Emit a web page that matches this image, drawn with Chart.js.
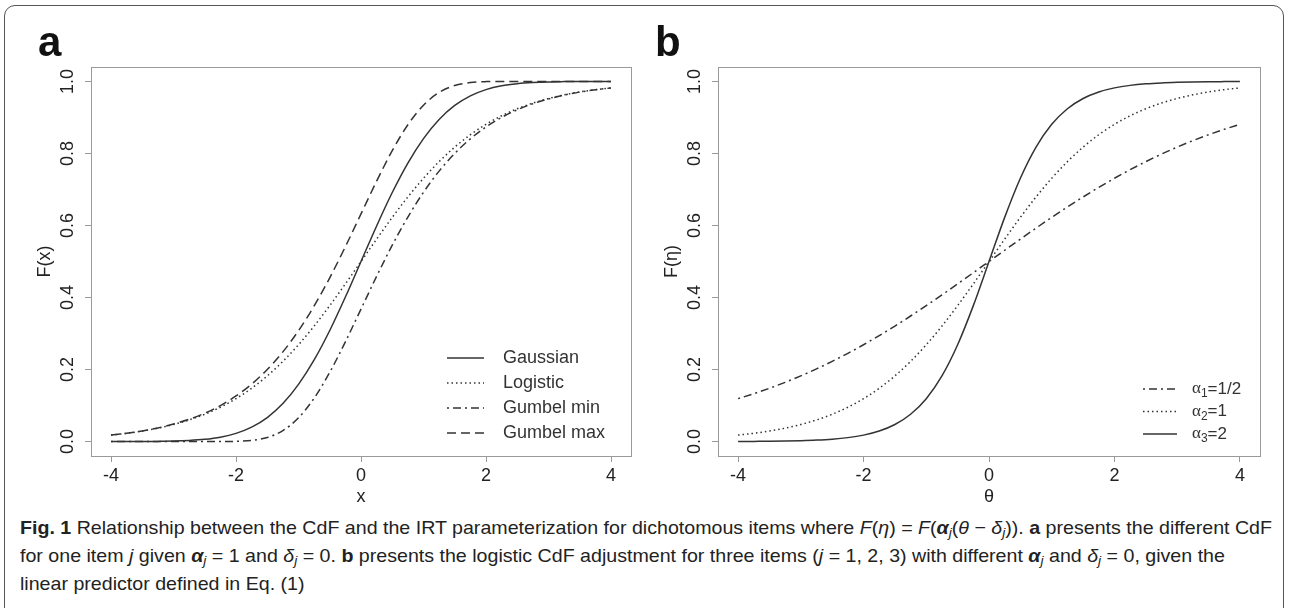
<!DOCTYPE html>
<html>
<head>
<meta charset="utf-8">
<script src="https://cdn.jsdelivr.net/npm/chart.js@4.4.1/dist/chart.umd.min.js"></script>
<style>
  html, body { margin: 0; padding: 0; background: #fff; }
  body { width: 1289px; height: 608px; position: relative; overflow: hidden; }
  #frame {
    position: absolute; left: 4px; top: 5px; width: 1280px; height: 660px;
    border: 1.5px solid #555; border-radius: 11px; box-sizing: border-box;
  }
  canvas { position: absolute; top: 0; }
  #chartA { left: 0; }
  #chartB { left: 645px; }
  #cap {
    position: absolute; left: 20px; top: 514px;
    font-family: "Liberation Sans", Arial, sans-serif;
    font-size: 19px; line-height: 28px; color: #222;
    white-space: nowrap; transform-origin: 0 0;
  }
  #cap sub { font-size: 70%; line-height: 0; vertical-align: -0.25em; }
</style>
</head>
<body>
<div id="frame"></div>
<canvas id="chartA" width="645" height="510"></canvas>
<canvas id="chartB" width="644" height="510"></canvas>
<div id="cap"><b>Fig. 1</b> Relationship between the CdF and the IRT parameterization for dichotomous items where <i>F</i>(<i>η</i>) = <i>F</i>(<b><i>α</i></b><sub><i>j</i></sub>(<i>θ</i> − <i>δ</i><sub><i>j</i></sub>)). <b>a</b> presents the different CdF<br>for one item <i>j</i> given <b><i>α</i></b><sub><i>j</i></sub> = 1 and <i>δ</i><sub><i>j</i></sub> = 0. <b>b</b> presents the logistic CdF adjustment for three items (<i>j</i> = 1, 2, 3) with different <b><i>α</i></b><sub><i>j</i></sub> and <i>δ</i><sub><i>j</i></sub> = 0, given the<br>linear predictor defined in Eq. (1)</div>
<script>
// valores
const xValues = [-4, -3.75, -3.5, -3.25, -3, -2.75, -2.5, -2.25, -2, -1.75, -1.5, -1.25, -1, -0.75, -0.5, -0.25,
                 0, 0.25, 0.5, 0.75, 1, 1.25, 1.5, 1.75, 2, 2.25, 2.5, 2.75, 3, 3.25, 3.5, 3.75, 4];
const gaussian = [0.0000, 0.0001, 0.0002, 0.0006, 0.0013, 0.0030, 0.0062, 0.0122, 0.0228, 0.0401, 0.0668, 0.1056, 0.1587, 0.2266, 0.3085, 0.4013,
                  0.5000, 0.5987, 0.6915, 0.7734, 0.8413, 0.8944, 0.9332, 0.9599, 0.9772, 0.9878, 0.9938, 0.9970, 0.9987, 0.9994, 0.9998, 0.9999, 1.0000];
const logistic = [0.0180, 0.0230, 0.0293, 0.0373, 0.0474, 0.0601, 0.0759, 0.0953, 0.1192, 0.1480, 0.1824, 0.2227, 0.2689, 0.3208, 0.3775, 0.4378,
                  0.5000, 0.5622, 0.6225, 0.6792, 0.7311, 0.7773, 0.8176, 0.8520, 0.8808, 0.9047, 0.9241, 0.9399, 0.9526, 0.9627, 0.9707, 0.9770, 0.9820];
const gumbelMin = [0.0000, 0.0000, 0.0000, 0.0000, 0.0000, 0.0000, 0.0000, 0.0001, 0.0006, 0.0032, 0.0113, 0.0305, 0.0660, 0.1204, 0.1923, 0.2769,
                   0.3679, 0.4589, 0.5452, 0.6235, 0.6922, 0.7509, 0.8000, 0.8405, 0.8734, 0.9000, 0.9212, 0.9381, 0.9514, 0.9620, 0.9703, 0.9768, 0.9818];
const gumbelMax = [0.0182, 0.0232, 0.0297, 0.0380, 0.0486, 0.0619, 0.0788, 0.1000, 0.1266, 0.1595, 0.2000, 0.2491, 0.3078, 0.3765, 0.4548, 0.5411,
                   0.6321, 0.7231, 0.8077, 0.8796, 0.9340, 0.9695, 0.9887, 0.9968, 0.9994, 0.9999, 1.0000, 1.0000, 1.0000, 1.0000, 1.0000, 1.0000, 1.0000];

const thetaValues = xValues;
const alphaHalf = [0.1192, 0.1330, 0.1480, 0.1645, 0.1824, 0.2018, 0.2227, 0.2451, 0.2689, 0.2942, 0.3208, 0.3487, 0.3775, 0.4073, 0.4378, 0.4688,
                   0.5000, 0.5312, 0.5622, 0.5927, 0.6225, 0.6513, 0.6792, 0.7058, 0.7311, 0.7549, 0.7773, 0.7982, 0.8176, 0.8355, 0.8520, 0.8670, 0.8808];
const alphaOne = logistic;
const alphaTwo = [0.0003, 0.0006, 0.0009, 0.0015, 0.0025, 0.0041, 0.0067, 0.0110, 0.0180, 0.0293, 0.0474, 0.0759, 0.1192, 0.1824, 0.2689, 0.3775,
                  0.5000, 0.6225, 0.7311, 0.8176, 0.8808, 0.9241, 0.9526, 0.9707, 0.9820, 0.9890, 0.9933, 0.9959, 0.9975, 0.9985, 0.9991, 0.9994, 0.9997];

const xTicks = [-4, -2, 0, 2, 4];
const yTicks = [0, 0.2, 0.4, 0.6, 0.8, 1.0];
const namesA = ['Gaussian', 'Logistic', 'Gumbel min', 'Gumbel max'];
const alphaSubs = ['1', '2', '3'];
const alphaLevels = ['1/2', '1', '2'];

const FONT = '"Liberation Sans", Arial, sans-serif';
const INK = '#222';
const LINE = '#333';
const SOLID = [], DOTTED = [1.5, 3], DOTDASH = [2, 4, 8, 4], DASHED = [9, 5];

// caja, etiquetas del eje y, letra del panel y leyenda al estilo R
const rFrame = {
  id: 'rFrame',
  afterDraw(chart, args, opts) {
    const { ctx, chartArea: a } = chart;
    const y = chart.scales.y;
    ctx.save();
    ctx.strokeStyle = '#9a9a9a';
    ctx.lineWidth = 1;
    ctx.strokeRect(Math.round(a.left) + 0.5, Math.round(a.top) + 0.5, a.right - a.left, a.bottom - a.top);

    ctx.fillStyle = INK;
    ctx.font = '18px ' + FONT;
    ctx.textAlign = 'center';
    ctx.textBaseline = 'middle';
    y.ticks.forEach(t => {
      ctx.save();
      ctx.translate(a.left - 23, y.getPixelForValue(t.value));
      ctx.rotate(-Math.PI / 2);
      ctx.fillText(t.value.toFixed(1), 0, 0);
      ctx.restore();
    });

    ctx.font = 'bold 42px ' + FONT;
    ctx.textAlign = 'left';
    ctx.textBaseline = 'alphabetic';
    ctx.fillStyle = '#111';
    ctx.fillText(opts.letter, opts.letterX, opts.letterY);

    const lg = opts.legend;
    ctx.textBaseline = 'middle';
    chart.data.datasets.forEach((ds, i) => {
      const ly = lg.y + i * lg.row;
      ctx.strokeStyle = ds.borderColor;
      ctx.lineWidth = ds.borderWidth;
      ctx.setLineDash(ds.borderDash);
      ctx.beginPath();
      ctx.moveTo(lg.x, ly);
      ctx.lineTo(lg.x + lg.len, ly);
      ctx.stroke();
      ctx.setLineDash([]);
      ctx.fillStyle = '#333';
      let tx = lg.x + lg.len + lg.gap;
      if (ds.sub) {
        ctx.font = lg.size + 'px "Liberation Serif", serif';
        ctx.fillText('α', tx, ly);
        tx += ctx.measureText('α').width;
        ctx.font = Math.round(lg.size * 0.7) + 'px ' + FONT;
        ctx.fillText(ds.sub, tx, ly + 5);
        tx += ctx.measureText(ds.sub).width;
        ctx.font = lg.size + 'px ' + FONT;
        ctx.fillText('=' + ds.level, tx, ly);
      } else {
        ctx.font = lg.size + 'px ' + FONT;
        ctx.fillText(ds.label, tx, ly);
      }
    });
    ctx.restore();
  }
};

function serie(xs, ys, label, dash, extra) {
  return Object.assign({
    label: label,
    data: xs.map((x, i) => ({ x: x, y: ys[i] })),
    borderColor: LINE,
    borderWidth: 1.5,
    borderDash: dash,
    pointRadius: 0,
    fill: false,
    cubicInterpolationMode: 'monotone'
  }, extra || {});
}

function crearGrafica(id, datasets, cfg) {
  return new Chart(document.getElementById(id).getContext('2d'), {
    type: 'line',
    data: { datasets: datasets },
    plugins: [rFrame],
    options: {
      responsive: false,
      animation: false,
      events: [],
      layout: { padding: { top: 67, right: cfg.rightPad, bottom: 0, left: 0 } },
      plugins: {
        legend: { display: false },
        tooltip: { enabled: false },
        rFrame: { letter: cfg.letter, letterX: cfg.letterX, letterY: 56, legend: cfg.legend }
      },
      scales: {
        x: {
          type: 'linear', min: -4.32, max: 4.32,
          afterBuildTicks: s => { s.ticks = xTicks.map(v => ({ value: v })); },
          afterFit: s => { s.height = 54; },
          grid: { drawOnChartArea: false, drawTicks: true, tickLength: 6, color: '#9a9a9a' },
          border: { display: false },
          ticks: { padding: 3, color: INK, maxRotation: 0, font: { size: 18, family: FONT }, callback: v => String(v) },
          title: { display: true, text: cfg.xTitle, color: INK, font: { size: 18, family: FONT }, padding: { top: 0, bottom: 2 } }
        },
        y: {
          type: 'linear', min: -0.04, max: 1.04,
          afterBuildTicks: s => { s.ticks = yTicks.map(v => ({ value: v })); },
          afterFit: s => { s.width = cfg.leftW; },
          grid: { drawOnChartArea: false, drawTicks: true, tickLength: 6, color: '#9a9a9a' },
          border: { display: false },
          ticks: { display: false },
          title: { display: true, text: cfg.yTitle, color: INK, font: { size: 18, family: FONT }, padding: { top: cfg.yTitlePad, bottom: 0 } }
        }
      }
    }
  });
}

crearGrafica('chartA', [
  serie(xValues, gaussian, namesA[0], SOLID),
  serie(xValues, logistic, namesA[1], DOTTED),
  serie(xValues, gumbelMin, namesA[2], DOTDASH),
  serie(xValues, gumbelMax, namesA[3], DASHED)
], {
  letter: 'a', letterX: 38, xTitle: 'x', yTitle: 'F(x)', leftW: 91, rightPad: 14, yTitlePad: 34,
  legend: { x: 447, y: 358, len: 37, gap: 19, row: 25, size: 18 }
});

crearGrafica('chartB', [
  serie(thetaValues, alphaHalf, 'α' + alphaSubs[0] + '=' + alphaLevels[0], DOTDASH, { sub: alphaSubs[0], level: alphaLevels[0] }),
  serie(thetaValues, alphaOne, 'α' + alphaSubs[1] + '=' + alphaLevels[1], DOTTED, { sub: alphaSubs[1], level: alphaLevels[1] }),
  serie(thetaValues, alphaTwo, 'α' + alphaSubs[2] + '=' + alphaLevels[2], SOLID, { sub: alphaSubs[2], level: alphaLevels[2] })
], {
  letter: 'b', letterX: 10, xTitle: 'θ', yTitle: 'F(η)', leftW: 73, rightPad: 29, yTitlePad: 16,
  legend: { x: 498, y: 389, len: 34, gap: 15, row: 22.5, size: 17 }
});

// ajustar el ancho del pie de figura al de la referencia
const cap = document.getElementById('cap');
const ancho = cap.getBoundingClientRect().width;
cap.style.transform = 'scaleX(' + (1252 / ancho) + ')';
</script>
</body>
</html>
